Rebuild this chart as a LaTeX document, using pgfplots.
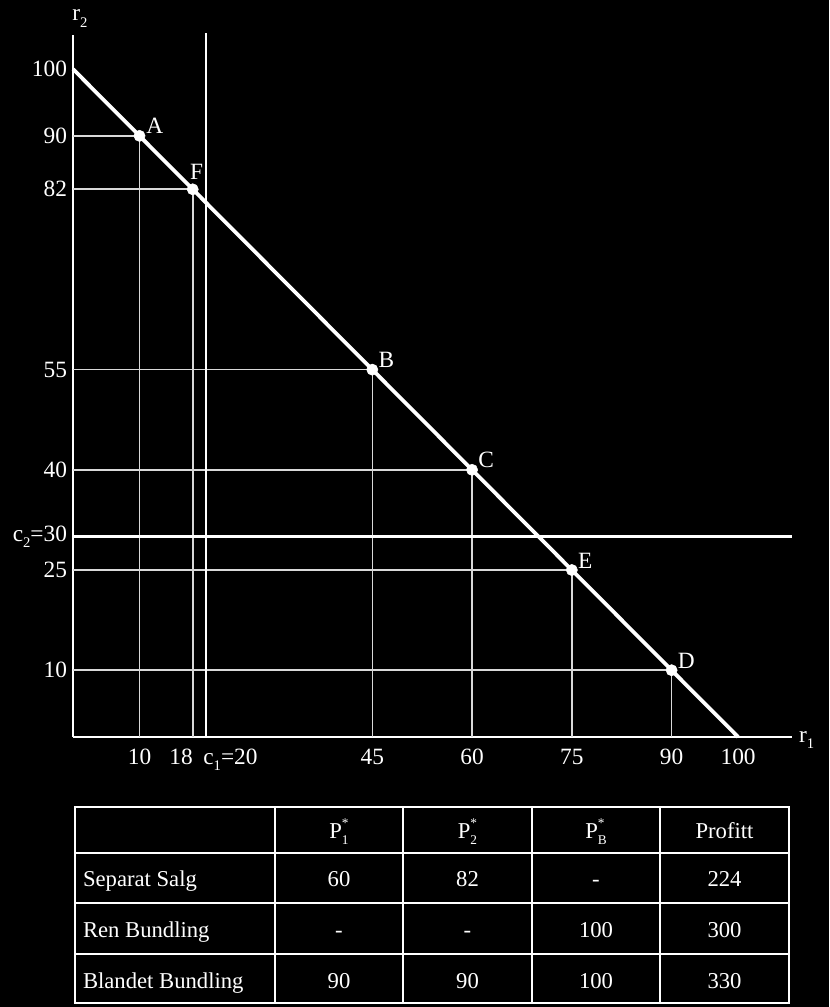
\documentclass[border=0pt]{standalone}
\usepackage{pgfplots}
\pgfplotsset{compat=1.18}
\usepackage{fontspec}
\setmainfont{Liberation Serif}
\newcommand\sub[1]{\raisebox{-0.6ex}{\fontsize{11}{11}\selectfont #1}}
\newcommand\Ps[1]{P\rlap{\raisebox{1.05ex}{\fontsize{10}{10}\selectfont *}}\raisebox{-0.6ex}{\fontsize{10}{10}\selectfont #1}}
\newcommand\fnt{\fontsize{17.5}{20}\selectfont}
\begin{document}
\begin{tikzpicture}
\fill[black] (0,0) rectangle (621.75pt,-755.25pt);
\begin{axis}[
 at={(54.75pt,-552.75pt)}, anchor=south west,
 scale only axis, width=539.25pt, height=526.5pt,
 xmin=0, xmax=108.1, ymin=0, ymax=105.1,
 axis x line=bottom, axis y line=left,
 axis line style={white, line width=2.2pt, -},
 major tick length=0pt,
 xtick={10,45,60,75,90,100},
 extra x ticks={18,20},
 extra x tick labels={\llap{18},\rlap{\hspace*{-2pt}c\sub{1}=20}},
 ytick={10,25,30,40,55,82,90,100},
 yticklabels={10,25,c\sub{2}=30,40,55,82,90,100},
 ticklabel style={text=white, font=\fnt},
 /pgf/number format/assume math mode=true,
 xticklabel style={yshift=-5.5pt},
 yticklabel style={xshift=-1pt},
 clip=false,
]
\addplot[white!85!black, line width=1.2pt] coordinates {(10,0) (10,90) (0,90)};
\addplot[white!85!black, line width=1.2pt] coordinates {(18,0) (18,82) (0,82)};
\addplot[white!85!black, line width=1.2pt] coordinates {(45,0) (45,55) (0,55)};
\addplot[white!85!black, line width=1.2pt] coordinates {(60,0) (60,40) (0,40)};
\addplot[white!85!black, line width=1.2pt] coordinates {(75,0) (75,25) (0,25)};
\addplot[white!85!black, line width=1.2pt] coordinates {(90,0) (90,10) (0,10)};
\addplot[white, line width=2.2pt] coordinates {(0,30) (108.1,30)};
\addplot[white, line width=2.2pt] coordinates {(20,0) (20,105.4)};
\addplot[white, line width=2.8pt] coordinates {(0,100) (100,0)};
\addplot[only marks, mark=*, mark size=4.2pt, mark options={fill=white, draw=white}]
  coordinates {(10,90) (18,82) (45,55) (60,40) (75,25) (90,10)};
\node[text=white, font=\fnt, anchor=base west, inner sep=0pt, xshift=5pt, yshift=1.5pt] at (axis cs:10,90) {A};
\node[text=white, font=\fnt, anchor=base, inner sep=0pt, xshift=3pt, yshift=7.5pt] at (axis cs:18,82) {F};
\node[text=white, font=\fnt, anchor=base west, inner sep=0pt, xshift=4.5pt, yshift=1.5pt] at (axis cs:45,55) {B};
\node[text=white, font=\fnt, anchor=base west, inner sep=0pt, xshift=4.5pt, yshift=1.5pt] at (axis cs:60,40) {C};
\node[text=white, font=\fnt, anchor=base west, inner sep=0pt, xshift=4.5pt, yshift=1.5pt] at (axis cs:75,25) {E};
\node[text=white, font=\fnt, anchor=base west, inner sep=0pt, xshift=4.5pt, yshift=1.5pt] at (axis cs:90,10) {D};
\end{axis}
\node[text=white, font=\fnt] at (60pt,-14pt) {r\sub{2}};
\node[text=white, font=\fnt] at (605pt,-555pt) {r\sub{1}};
\begin{scope}[x=0.75pt, y=-0.75pt, white, line width=1.5pt]
\draw (75,807) rectangle (789,1003);
\foreach \yy in {853,903,954} \draw (75,\yy) -- (789,\yy);
\foreach \xx in {275,403,532,660} \draw (\xx,807) -- (\xx,1003);
\begin{scope}[every node/.style={text=white, font=\fontsize{17}{20}\selectfont, inner sep=0pt}]
\node[anchor=base] at (339,838) {\Ps{1}};
\node[anchor=base] at (467.5,838) {\Ps{2}};
\node[anchor=base] at (596,838) {\Ps{B}};
\node[anchor=base] at (724.5,838) {Profitt};
\node[anchor=base west] at (82,886) {Separat Salg};
\node[anchor=base] at (339,886) {60};
\node[anchor=base] at (467.5,886) {82};
\node[anchor=base] at (596,886) {-};
\node[anchor=base] at (724.5,886) {224};
\node[anchor=base west] at (82,937) {Ren Bundling};
\node[anchor=base] at (339,937) {-};
\node[anchor=base] at (467.5,937) {-};
\node[anchor=base] at (596,937) {100};
\node[anchor=base] at (724.5,937) {300};
\node[anchor=base west] at (82,988) {Blandet Bundling};
\node[anchor=base] at (339,988) {90};
\node[anchor=base] at (467.5,988) {90};
\node[anchor=base] at (596,988) {100};
\node[anchor=base] at (724.5,988) {330};
\end{scope}
\end{scope}
\end{tikzpicture}
\end{document}
